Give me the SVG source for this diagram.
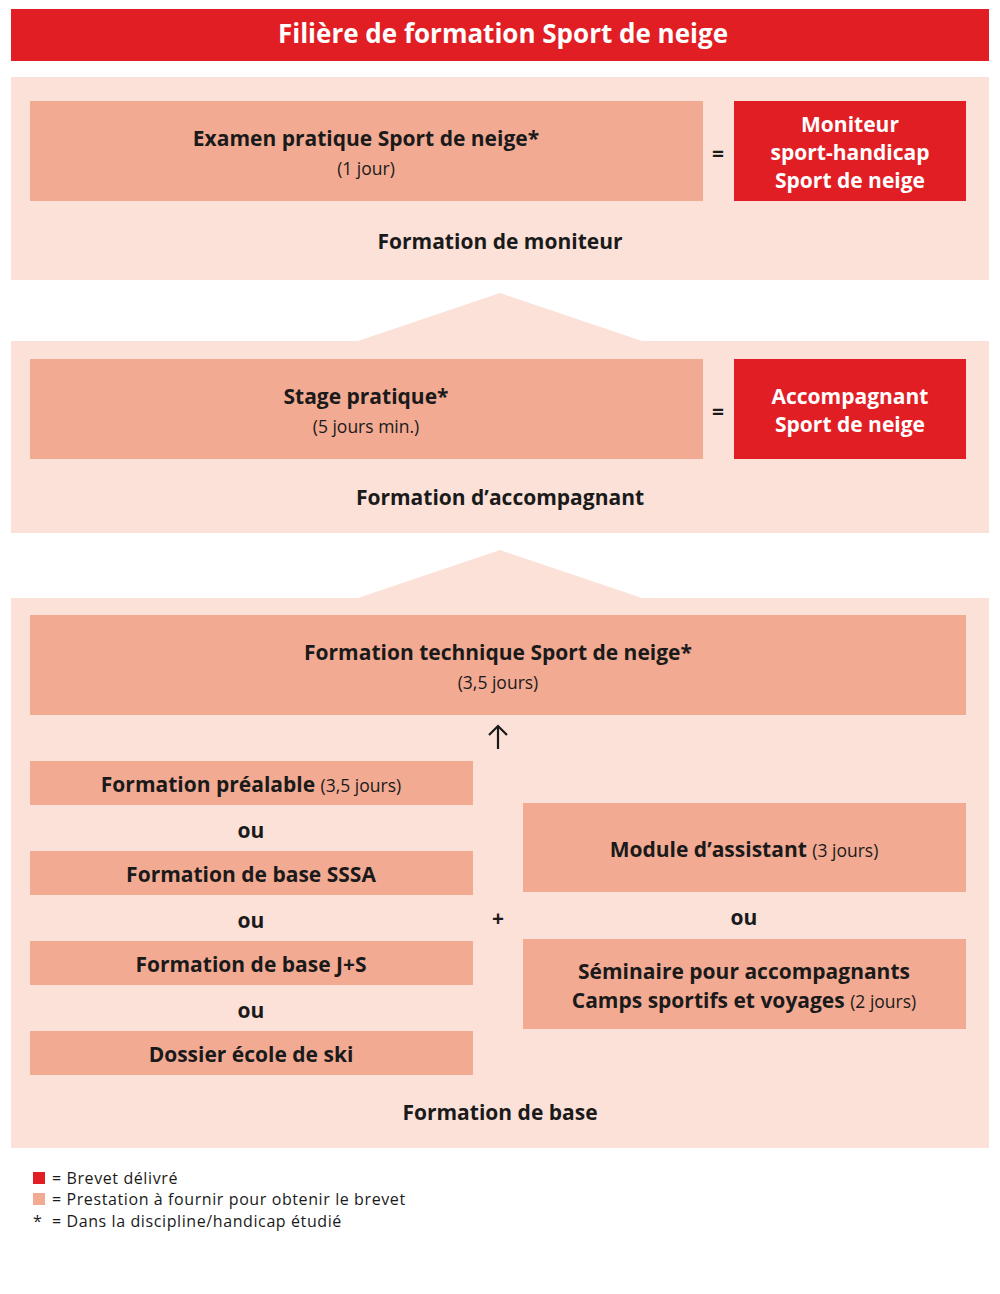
<svg xmlns="http://www.w3.org/2000/svg" width="1000" height="1294" viewBox="0 0 1000 1294">
<style>
.panel{fill:#FBE1D8}
.box{fill:#F2AA93}
.red{fill:#E11E24}
text{font-family:"Open Sans","Noto Sans","Liberation Sans",sans-serif;fill:#1a1a1a}
.b{font-size:21px;font-weight:700}
.s{font-size:17.5px;font-weight:400}
.w{fill:#fff;font-size:21px;font-weight:700}
.lg{font-size:16px;font-weight:400;letter-spacing:0.6px}
</style>
<rect width="1000" height="1294" fill="#fff"/>
<g id="title">
<rect x="11" y="9" width="978" height="52" class="red"/>
<text x="503" y="43" text-anchor="middle" class="w" style="font-size:26px">Filière de formation Sport de neige</text>
</g>
<g id="panels">
<rect id="panel-moniteur" x="11" y="77" width="978" height="203" class="panel"/>
<polygon points="355,342 500,293 645,342" class="panel"/>
<rect id="panel-accompagnant" x="11" y="341" width="978" height="192" class="panel"/>
<polygon points="355,599 500,550 645,599" class="panel"/>
<rect id="panel-base" x="11" y="598" width="978" height="550" class="panel"/>
</g>
<g id="n-examen">
<rect x="30" y="101" width="673" height="100" class="box"/>
<text x="366" y="146" text-anchor="middle" class="b">Examen pratique Sport de neige*</text>
<text x="366" y="175" text-anchor="middle" class="s">(1 jour)</text>
</g>
<g id="n-moniteur">
<rect x="734" y="101" width="232" height="100" class="red"/>
<text x="850" y="132" text-anchor="middle" class="w">Moniteur</text>
<text x="850" y="160" text-anchor="middle" class="w">sport-handicap</text>
<text x="850" y="188" text-anchor="middle" class="w">Sport de neige</text>
</g>
<text x="500" y="249" text-anchor="middle" class="b">Formation de moniteur</text>
<g id="n-stage">
<rect x="30" y="359" width="673" height="100" class="box"/>
<text x="366" y="404" text-anchor="middle" class="b">Stage pratique*</text>
<text x="366" y="433" text-anchor="middle" class="s">(5 jours min.)</text>
</g>
<g id="n-accompagnant">
<rect x="734" y="359" width="232" height="100" class="red"/>
<text x="850" y="404" text-anchor="middle" class="w">Accompagnant</text>
<text x="850" y="432" text-anchor="middle" class="w">Sport de neige</text>
</g>
<text x="500" y="505" text-anchor="middle" class="b">Formation d’accompagnant</text>
<g id="n-technique">
<rect x="30" y="615" width="936" height="100" class="box"/>
<text x="498" y="660" text-anchor="middle" class="b">Formation technique Sport de neige*</text>
<text x="498" y="689" text-anchor="middle" class="s">(3,5 jours)</text>
</g>
<g id="n-prealable">
<rect x="30" y="761" width="443" height="44" class="box"/>
<text x="251" y="792" text-anchor="middle"><tspan class="b">Formation préalable </tspan><tspan class="s">(3,5 jours)</tspan></text>
</g>
<g id="n-sssa">
<rect x="30" y="851" width="443" height="44" class="box"/>
<text x="251" y="882" text-anchor="middle" class="b">Formation de base SSSA</text>
</g>
<g id="n-js">
<rect x="30" y="941" width="443" height="44" class="box"/>
<text x="251" y="972" text-anchor="middle" class="b">Formation de base J+S</text>
</g>
<g id="n-dossier">
<rect x="30" y="1031" width="443" height="44" class="box"/>
<text x="251" y="1062" text-anchor="middle" class="b">Dossier école de ski</text>
</g>
<g id="n-module">
<rect x="523" y="803" width="443" height="89" class="box"/>
<text x="744" y="857" text-anchor="middle"><tspan class="b">Module d’assistant </tspan><tspan class="s">(3 jours)</tspan></text>
</g>
<g id="n-seminaire">
<rect x="523" y="939" width="443" height="90" class="box"/>
<text x="744" y="979" text-anchor="middle" class="b">Séminaire pour accompagnants</text>
<text x="744" y="1008" text-anchor="middle"><tspan class="b">Camps sportifs et voyages </tspan><tspan class="s">(2 jours)</tspan></text>
</g>
<g id="labels">
<text x="718" y="161" text-anchor="middle" class="b">=</text>
<text x="718" y="419" text-anchor="middle" class="b">=</text>
<text x="251" y="838" text-anchor="middle" class="b">ou</text>
<text x="251" y="928" text-anchor="middle" class="b">ou</text>
<text x="251" y="1018" text-anchor="middle" class="b">ou</text>
<text x="744" y="925" text-anchor="middle" class="b">ou</text>
<text x="498" y="926" text-anchor="middle" class="b">+</text>
<text x="500" y="1120" text-anchor="middle" class="b">Formation de base</text>
</g>
<g id="connectors" fill="none" stroke="#1a1a1a" stroke-width="2.2">
<line x1="498" y1="749" x2="498" y2="727"/>
<polyline points="489,735 498,726 507,735"/>
</g>
<g id="legend">
<rect x="33" y="1172" width="12" height="12" class="red"/>
<rect x="33" y="1193" width="12" height="12" class="box"/>
<text x="52" y="1184" class="lg">= Brevet délivré</text>
<text x="52" y="1205" class="lg">= Prestation à fournir pour obtenir le brevet</text>
<text x="33" y="1227" class="lg">*</text>
<text x="52" y="1227" class="lg">= Dans la discipline/handicap étudié</text>
</g>
</svg>
